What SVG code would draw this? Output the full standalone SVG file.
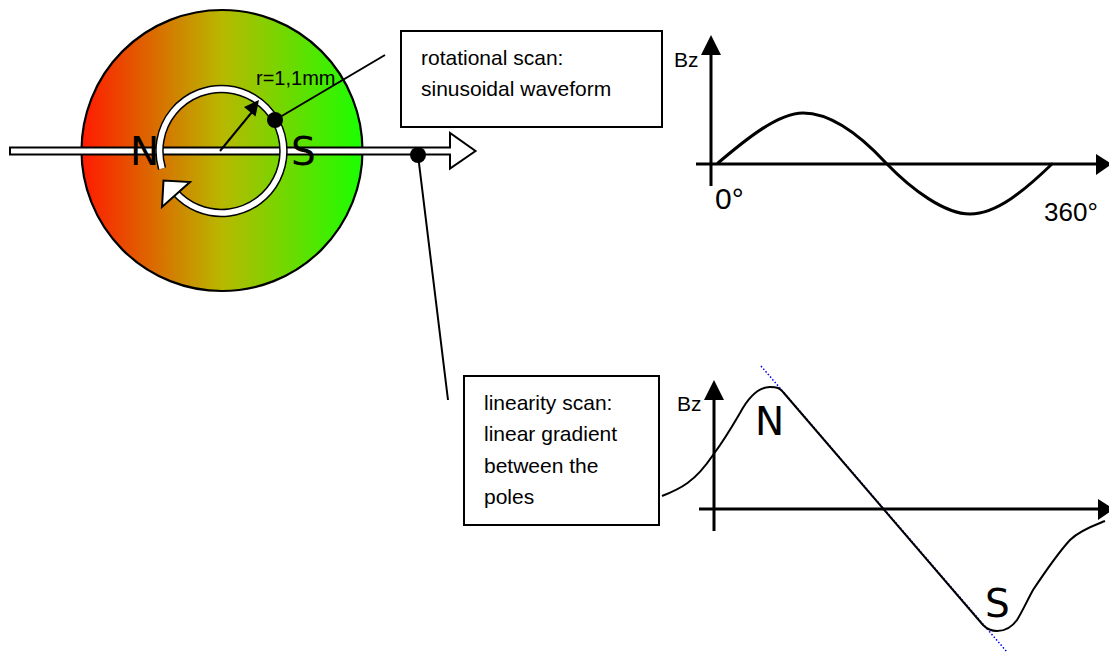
<svg xmlns="http://www.w3.org/2000/svg" width="1109" height="654" viewBox="0 0 1109 654">
<style>
.t{font-family:"Liberation Sans",Arial,sans-serif;font-size:21px;fill:#000;textLength:auto}
.p{font-family:"DejaVu Sans",sans-serif;font-size:39px;fill:#000}
.l{fill:none;stroke:#000;stroke-width:2}
.a{fill:none;stroke:#000;stroke-width:3}
.c{fill:none;stroke:#000;stroke-width:3;stroke-linecap:round}
.box{fill:#fff;stroke:#000;stroke-width:2}
.h{fill:#000;stroke:none}
</style>
<defs>
<linearGradient id="g" x1="0" x2="1" y1="0" y2="0"><stop offset="0" stop-color="#ff1a00"/><stop offset="0.5" stop-color="#b8b800"/><stop offset="1" stop-color="#1aff00"/></linearGradient>
</defs>
<g id="disc"><circle cx="222" cy="150.5" r="140.5" fill="url(#g)" stroke="#000" stroke-width="2.2"/></g>
<g id="linear-arrow"><path d="M10 147.5H450V133L475.5 151L450 168.500V154.500H10Z" fill="#fff" stroke="#000" stroke-width="2"/></g>
<g id="poles"><text class="p" x="130" y="165">N</text><text class="p" x="291" y="165">S</text></g>
<g id="rotation-arrow">
<path d="M162 168.500A62 62 0 1 1 175 192" fill="none" stroke="#000" stroke-width="8.500"/>
<path d="M162 168.500A62 62 0 1 1 175 192" fill="none" stroke="#fff" stroke-width="5.500"/>
<path d="M162 207L163.500 180.500L190 182Z" fill="#fff" stroke="#000" stroke-width="2"/>
</g>
<g id="radius"><path class="l" d="M220 151L252 112"/><path class="h" d="M259 100L255.500 116.500L244 107Z"/><text class="t" x="256" y="85" style="font-size:20px">r=1,1mm</text></g>
<g id="connectors">
<path class="l" d="M275 120L385 55M418 155L448 400"/>
<circle cx="275" cy="120" r="8" fill="#000"/><circle cx="418" cy="155" r="8" fill="#000"/>
</g>
<g id="box-rotational"><rect class="box" x="401" y="31" width="261" height="96"/><text class="t" x="421" y="65">rotational scan:</text><text class="t" x="421" y="96">sinusoidal waveform</text></g>
<g id="box-linearity"><rect class="box" x="464" y="376" width="195" height="149"/><text class="t" x="484" y="410">linearity scan:</text><text class="t" x="484" y="441">linear gradient</text><text class="t" x="484" y="473">between the</text><text class="t" x="484" y="504">poles</text></g>
<g id="chart-rotational">
<path class="a" d="M711 186V50M696 164H1098"/>
<path class="h" d="M711 35L721 55H701ZM1096 154L1112 164L1096 175Z"/>
<path class="c" d="M718 163C745 140 778 113 803 113C830 113 860 135 886 163C912 190 945 214 970 214C997 214 1025 190 1052 164"/>
<text class="t" x="674" y="67">Bz</text>
<text class="t" x="715" y="209" style="font-size:30px">0°</text>
<text class="t" x="1044" y="221" style="font-size:26px">360°</text>
</g>
<g id="chart-linearity">
<path d="M761 366L1007 652" fill="none" stroke="#00f" stroke-width="1.500" stroke-dasharray="1.500 2"/>
<path class="a" d="M714 531V395M699 509H1100"/>
<path class="h" d="M714 380L724 400H704ZM1098 499L1114 509L1098 520Z"/>
<path d="M662 496C680 489 695 482 713 455C725 439 733 425 740 413C748 398 758 387 770 387C777 387 780 388 783 392L983 625C988 630 992 631 997 631C1005 631 1012 627 1017 620C1022 612 1027 601 1033 590C1045 572 1058 553 1070 540C1080 530 1095 525 1105 521" fill="none" stroke="#000" stroke-width="2"/>
<text class="t" x="677" y="411">Bz</text>
<text class="p" x="755" y="435">N</text>
<text class="p" x="985" y="617">S</text>
</g>
</svg>
